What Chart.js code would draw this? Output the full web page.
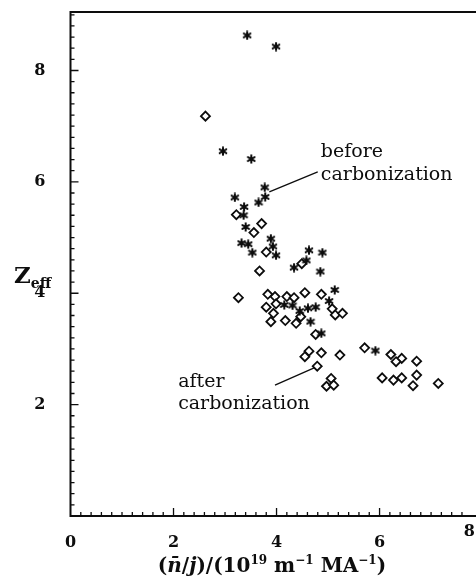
<!DOCTYPE html>
<html>
<head>
<meta charset="utf-8">
<script src="https://cdn.jsdelivr.net/npm/chart.js@4.4.0/dist/chart.umd.min.js"></script>
<style>
  html, body { margin: 0; padding: 0; background: #fff; overflow: hidden; }
  canvas { display: block; }
</style>
</head>
<body>
<canvas id="zeff-chart" width="476" height="577"></canvas>
<script>
// values
var beforeX = [3.43, 3.99, 2.96, 3.51, 3.77, 3.78, 3.19, 3.65, 3.37, 3.36, 3.40, 3.89, 3.32, 3.45, 3.93, 3.53,
               3.99, 4.63, 4.89, 4.58, 4.34, 4.85, 5.13, 5.02, 4.15, 4.31, 4.45, 4.61, 4.76, 4.66, 4.87, 5.92];
var beforeY = [8.63, 8.43, 6.55, 6.41, 5.90, 5.73, 5.72, 5.63, 5.55, 5.40, 5.19, 4.98, 4.90, 4.88, 4.84, 4.73,
               4.68, 4.77, 4.73, 4.59, 4.46, 4.39, 4.06, 3.86, 3.79, 3.78, 3.68, 3.73, 3.75, 3.49, 3.28, 2.97];

var afterX = [2.62, 3.22, 3.71, 3.56, 3.80, 4.49, 3.67, 3.26, 3.83, 3.97, 4.20, 4.34, 4.55, 4.87, 3.80, 3.99,
              3.94, 3.89, 4.17, 4.38, 4.47, 5.08, 5.14, 5.28, 4.76, 4.63, 4.55, 4.87, 5.23, 4.79, 5.06, 4.97,
              5.11, 5.71, 6.22, 6.43, 6.32, 6.72, 6.05, 6.27, 6.43, 6.72, 6.65, 7.14];
var afterY = [7.18, 5.41, 5.25, 5.09, 4.74, 4.53, 4.40, 3.92, 3.98, 3.94, 3.94, 3.92, 4.01, 3.98, 3.75, 3.81,
              3.64, 3.49, 3.51, 3.46, 3.58, 3.72, 3.61, 3.64, 3.26, 2.96, 2.86, 2.93, 2.89, 2.69, 2.47, 2.33,
              2.35, 3.02, 2.90, 2.83, 2.77, 2.78, 2.48, 2.44, 2.48, 2.53, 2.34, 2.38];

var xTicks = [0, 2, 4, 6];
var yTicks = [2, 4, 6, 8];
var xMax = 7.75; // the scan is cut off just before x = 8
var yMax = 9.05;

var serif = "'DejaVu Serif', 'Liberation Serif', serif";
var ink = '#0d0d0d';

function toPoints(xs, ys) {
    return xs.map(function (x, i) { return { x: x, y: ys[i] }; });
}

// six-armed asterisk used for the "before" points
function makeStar() {
    var c = document.createElement('canvas');
    c.width = 10; c.height = 10;
    var g = c.getContext('2d');
    g.strokeStyle = ink;
    g.lineWidth = 2;
    g.lineCap = 'round';
    for (var k = 0; k < 3; k++) {
        var a = Math.PI / 2 + k * Math.PI / 3;
        g.beginPath();
        g.moveTo(5 - 3.8 * Math.cos(a), 5 - 3.8 * Math.sin(a));
        g.lineTo(5 + 3.8 * Math.cos(a), 5 + 3.8 * Math.sin(a));
        g.stroke();
    }
    return c;
}

// frame plus inward ticks (minor every 0.2, major at the labels)
var framePlugin = {
    id: 'frame',
    beforeDatasetsDraw: function (chart) {
        var ctx = chart.ctx, a = chart.chartArea;
        var xs = chart.scales.x, ys = chart.scales.y;
        ctx.save();
        ctx.strokeStyle = ink;
        ctx.lineWidth = 2;
        ctx.beginPath();
        ctx.moveTo(chart.width, a.top);
        ctx.lineTo(a.left, a.top);
        ctx.lineTo(a.left, a.bottom);
        ctx.lineTo(chart.width, a.bottom);
        ctx.stroke();

        ctx.lineWidth = 1.3;
        ctx.beginPath();
        for (var i = 1; i * 0.2 < xs.max; i++) {
            var px = xs.getPixelForValue(i * 0.2);
            var len = (i % 10 === 0) ? 8 : 4;
            ctx.moveTo(px, a.bottom);
            ctx.lineTo(px, a.bottom - len);
        }
        for (var j = 1; j * 0.2 < ys.max; j++) {
            var py = ys.getPixelForValue(j * 0.2);
            var len2 = (j % 10 === 0) ? 8 : 4;
            ctx.moveTo(a.left, py);
            ctx.lineTo(a.left + len2, py);
        }
        ctx.stroke();
        ctx.restore();
    }
};

// draws a list of text runs, each with its own font and vertical shift
function drawRuns(ctx, runs, x, y, align) {
    var total = 0;
    runs.forEach(function (r) { ctx.font = r.f; total += ctx.measureText(r.t).width; });
    var cx = align === 'center' ? x - total / 2 : x;
    ctx.textAlign = 'left';
    ctx.textBaseline = 'alphabetic';
    runs.forEach(function (r) {
        ctx.font = r.f;
        ctx.fillText(r.t, cx, y - (r.dy || 0));
        cx += ctx.measureText(r.t).width;
    });
}

var labelPlugin = {
    id: 'labels',
    afterDraw: function (chart) {
        var ctx = chart.ctx, a = chart.chartArea;
        var xs = chart.scales.x, ys = chart.scales.y;
        ctx.save();
        ctx.fillStyle = ink;
        ctx.strokeStyle = ink;

        // annotations with leader lines
        ctx.font = '19px ' + serif;
        ctx.textAlign = 'left';
        ctx.textBaseline = 'alphabetic';
        ctx.fillText('before', xs.getPixelForValue(4.86), ys.getPixelForValue(6.44));
        ctx.fillText('carbonization', xs.getPixelForValue(4.86), ys.getPixelForValue(6.04));
        ctx.fillText('after', xs.getPixelForValue(2.09), ys.getPixelForValue(2.31));
        ctx.fillText('carbonization', xs.getPixelForValue(2.09), ys.getPixelForValue(1.92));

        ctx.lineWidth = 1.3;
        ctx.beginPath();
        ctx.moveTo(xs.getPixelForValue(3.86), ys.getPixelForValue(5.82));
        ctx.lineTo(xs.getPixelForValue(4.80), ys.getPixelForValue(6.18));
        ctx.moveTo(xs.getPixelForValue(3.97), ys.getPixelForValue(2.35));
        ctx.lineTo(xs.getPixelForValue(4.73), ys.getPixelForValue(2.66));
        ctx.stroke();

        // the "8" of the x axis, cut by the right edge of the scan
        ctx.font = 'bold 16px ' + serif;
        ctx.textAlign = 'right';
        ctx.textBaseline = 'middle';
        ctx.fillText('8', chart.width - 1, a.bottom + 16);

        // y title Z_eff
        drawRuns(ctx, [
            { t: 'Z', f: 'bold 23px ' + serif },
            { t: 'eff', f: 'bold 14px ' + serif, dy: -5 }
        ], 14, 283, 'left');

        // x title
        var b = 'bold 20px ' + serif, bi = 'italic bold 20px ' + serif, s = 'bold 12px ' + serif;
        drawRuns(ctx, [
            { t: '(', f: b }, { t: 'n\u0304', f: bi }, { t: '/', f: b }, { t: 'j', f: bi },
            { t: ')/(10', f: b }, { t: '19', f: s, dy: 8 }, { t: ' m', f: b }, { t: '\u22121', f: s, dy: 8 },
            { t: ' MA', f: b }, { t: '\u22121', f: s, dy: 8 }, { t: ')', f: b }
        ], 272, 572, 'center');
        ctx.restore();
    }
};

var ctx = document.getElementById('zeff-chart').getContext('2d');
var zeffChart = new Chart(ctx, {
    type: 'scatter',
    data: {
        datasets: [{
            label: 'before carbonization',
            data: toPoints(beforeX, beforeY),
            pointStyle: makeStar(),
            pointRadius: 5
        }, {
            label: 'after carbonization',
            data: toPoints(afterX, afterY),
            pointStyle: 'rectRot',
            pointRadius: 4.5,
            borderWidth: 1.8,
            borderColor: ink,
            backgroundColor: '#fff'
        }]
    },
    options: {
        responsive: false,
        animation: false,
        layout: { padding: { top: 12, right: 0, left: 0, bottom: 0 } },
        plugins: {
            legend: { display: false },
            tooltip: { enabled: false }
        },
        scales: {
            x: {
                type: 'linear',
                min: 0,
                max: xMax,
                grid: { display: false },
                border: { display: false },
                afterBuildTicks: function (scale) {
                    scale.ticks = xTicks.map(function (v) { return { value: v }; });
                },
                afterFit: function (scale) {
                    scale.height = 61;
                    scale.paddingLeft = 0;
                    scale.paddingRight = 0;
                },
                ticks: {
                    padding: 9,
                    maxRotation: 0,
                    color: ink,
                    font: { family: serif, weight: 'bold', size: 16 }
                }
            },
            y: {
                type: 'linear',
                min: 0,
                max: yMax,
                grid: { display: false },
                border: { display: false },
                afterBuildTicks: function (scale) {
                    scale.ticks = yTicks.map(function (v) { return { value: v }; });
                },
                afterFit: function (scale) {
                    scale.width = 70.5;
                    scale.paddingTop = 0;
                    scale.paddingBottom = 0;
                },
                ticks: {
                    padding: 17,
                    color: ink,
                    font: { family: serif, weight: 'bold', size: 16 }
                }
            }
        }
    },
    plugins: [framePlugin, labelPlugin]
});
</script>
</body>
</html>
